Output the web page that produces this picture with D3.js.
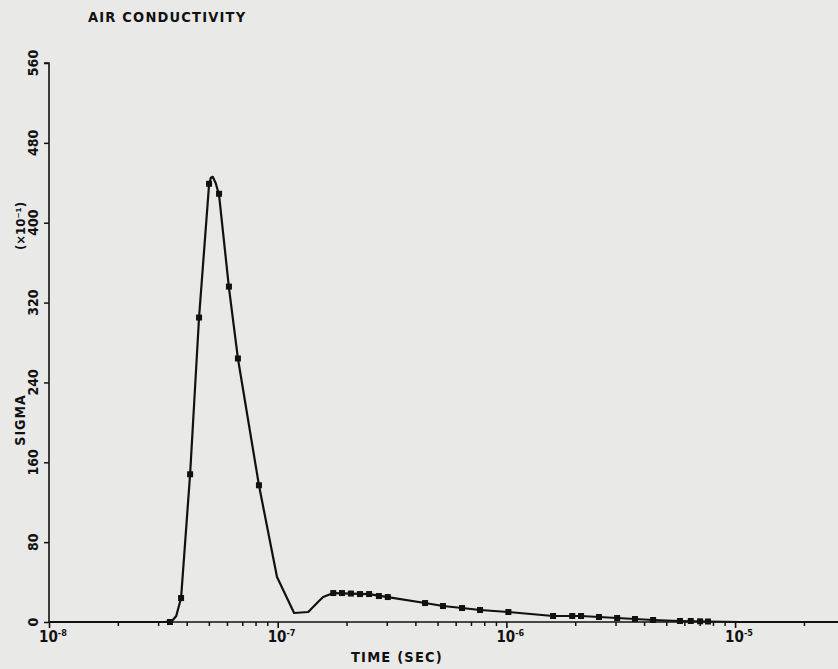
<!DOCTYPE html>
<html>
<head>
<meta charset="utf-8">
<script src="https://cdn.jsdelivr.net/npm/d3@7"></script>
<style>
  html, body { margin: 0; padding: 0; background: #e9e9e7; }
  svg { display: block; }
  text { font-family: "DejaVu Sans Condensed", "DejaVu Sans", sans-serif; font-weight: bold; fill: #111; }
</style>
</head>
<body>
<svg id="chart" width="838" height="669"></svg>
<script>
// ---- data ----
const titleText = "AIR CONDUCTIVITY";
const xLabel = "TIME (SEC)";
const yLabel = "SIGMA";
const yScaleNote = "(×10⁻¹)";
const yTicks = [0, 80, 160, 240, 320, 400, 480, 560];
const xDecades = [1e-8, 1e-7, 1e-6, 1e-5];
const xDecadeExp = ["-8", "-7", "-6", "-5"];

// curve (time in s, sigma in units of 1e-1)
const curveTime  = [1e-8, 3.2e-8, 3.45e-8, 3.6e-8, 3.78e-8, 4.14e-8, 4.53e-8, 5.01e-8, 5.10e-8, 5.20e-8,
                    5.35e-8, 5.54e-8, 6.12e-8, 6.70e-8, 8.28e-8, 9.93e-8, 1.18e-7, 1.36e-7, 1.50e-7, 1.58e-7,
                    1.75e-7, 2.09e-7, 2.51e-7, 3.03e-7, 4.41e-7, 5.28e-7, 6.40e-7, 7.67e-7, 1.02e-6, 1.60e-6,
                    2.12e-6, 2.54e-6, 3.05e-6, 3.65e-6, 4.38e-6, 5.74e-6, 7.61e-6, 1.05e-5, 3e-5];
const curveSigma = [0, 0, 1, 6, 24, 148, 305, 438, 445, 446,
                    440, 428, 335, 264, 137, 45, 9, 10, 20, 25,
                    29, 28.5, 28, 25, 19, 16, 14, 12, 10, 6,
                    6, 5, 4, 3, 2, 1, 0.5, 0, 0];

// plotted symbols
const markTime  = [3.38e-8, 3.78e-8, 4.14e-8, 4.53e-8, 5.01e-8, 5.54e-8, 6.12e-8, 6.70e-8, 8.28e-8,
                   1.75e-7, 1.91e-7, 2.09e-7, 2.29e-7, 2.51e-7, 2.77e-7, 3.03e-7,
                   4.41e-7, 5.28e-7, 6.40e-7, 7.67e-7, 1.02e-6, 1.60e-6, 1.94e-6, 2.12e-6, 2.54e-6,
                   3.05e-6, 3.65e-6, 4.38e-6, 5.74e-6, 6.40e-6, 7.03e-6, 7.61e-6];
const markSigma = [0, 24, 148, 305, 439, 429, 336, 264, 137,
                   29, 29, 28.5, 28, 28, 26, 25,
                   19, 16, 14, 12, 10, 6, 6, 6, 5,
                   4, 3, 2, 1, 1, 0.7, 0.5];

// ---- drawing ----
const svg = d3.select("#chart");
const x = d3.scaleLog().domain([1e-8, 1e-4]).range([49, 49 + 4 * 228.7]);
const y = d3.scaleLinear().domain([0, 560]).range([622, 63]);
const W = 838;

// title
svg.append("text").attr("x", 88).attr("y", 22).attr("font-size", 14.5).attr("letter-spacing", 1.2)
  .text(titleText);

// y axis
const yAxis = d3.axisLeft(y).tickValues(yTicks).tickSize(5).tickFormat("");
const gy = svg.append("g").attr("transform", "translate(49,0)").call(yAxis);
gy.select(".domain").attr("stroke", "#111").attr("stroke-width", 1.6).attr("d", `M-5,${y(560)}H0V${y(0)}`);
gy.selectAll(".tick line").attr("stroke", "#111").attr("stroke-width", 1.5);
yTicks.forEach(v => {
  svg.append("text").attr("transform", `translate(38,${y(v)}) rotate(-90)`)
    .attr("text-anchor", "middle").attr("font-size", 14).text(v);
});
svg.append("text").attr("transform", `translate(25,420) rotate(-90)`)
  .attr("text-anchor", "middle").attr("font-size", 14).attr("letter-spacing", 1).text(yLabel);
svg.append("text").attr("transform", `translate(25,226) rotate(-90)`)
  .attr("text-anchor", "middle").attr("font-size", 13).text(yScaleNote);

// x axis
const minorTicks = [];
for (let e = -8; e <= -5; e++) for (let m = 2; m <= 9; m++) {
  const v = m * Math.pow(10, e);
  if (x(v) < W) minorTicks.push(v);
}
const gx = svg.append("g").attr("transform", `translate(0,${y(0)})`)
  .call(d3.axisBottom(x).tickValues(minorTicks).tickSize(4).tickFormat(""));
gx.select(".domain").attr("stroke", "#111").attr("stroke-width", 1.6).attr("d", `M49,0H${W}`);
gx.selectAll(".tick line").attr("stroke", "#111").attr("stroke-width", 1.5);
const gxMaj = svg.append("g").attr("transform", `translate(0,${y(0)})`)
  .call(d3.axisBottom(x).tickValues(xDecades).tickSize(6).tickFormat(""));
gxMaj.select(".domain").remove();
gxMaj.selectAll(".tick line").attr("stroke", "#111").attr("stroke-width", 1.6);

xDecades.forEach((v, i) => {
  const t = svg.append("text").attr("x", x(v) - 10).attr("y", 642).attr("font-size", 15);
  t.append("tspan").text("10");
  t.append("tspan").attr("font-size", 9).attr("dy", -6).text(xDecadeExp[i]);
});
svg.append("text").attr("x", 397).attr("y", 662).attr("text-anchor", "middle")
  .attr("font-size", 14.5).attr("letter-spacing", 1.2).text(xLabel);

// curve
const pts = curveTime.map((t, i) => [t, curveSigma[i]]);
const line = d3.line().x(d => x(d[0])).y(d => y(d[1])).curve(d3.curveLinear);
svg.append("path").datum(pts).attr("d", line)
  .attr("fill", "none").attr("stroke", "#111").attr("stroke-width", 2.2).attr("stroke-linejoin", "round");

// markers
const mk = markTime.map((t, i) => [t, markSigma[i]]);
svg.append("g").selectAll("rect").data(mk).join("rect")
  .attr("x", d => x(d[0]) - 3).attr("y", d => y(d[1]) - 3)
  .attr("width", 6).attr("height", 6).attr("fill", "#111");
</script>
</body>
</html>
